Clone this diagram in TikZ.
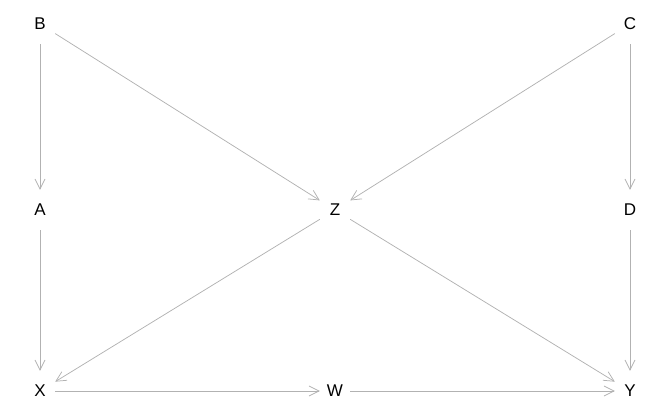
\documentclass[tikz,border=0pt]{standalone}
\usepackage{fontspec}
\setmainfont{Liberation Sans}
\usetikzlibrary{arrows.meta}
\begin{document}
\begin{tikzpicture}[x=1pt,y=-1pt,
  vnode/.style={rectangle,inner sep=0pt,minimum width=30pt,minimum height=40pt,font=\fontsize{17}{17}\selectfont,text=black},
  edge/.style={draw=black!30,line width=0.75pt,-{Straight Barb[length=10pt,width=10pt]}}]
\useasboundingbox (0,0) rectangle (672,415);
\node[vnode] (B) at (40,24) {B};
\node[vnode] (C) at (630,24) {C};
\node[vnode] (A) at (40,210) {A};
\node[vnode] (Z) at (335,210) {Z};
\node[vnode] (D) at (630,210) {D};
\node[vnode] (X) at (40,391) {X};
\node[vnode] (W) at (335,391) {W};
\node[vnode] (Y) at (630,391) {Y};
\draw[edge] (B) -- (A);
\draw[edge] (B) -- (Z);
\draw[edge] (C) -- (Z);
\draw[edge] (C) -- (D);
\draw[edge] (A) -- (X);
\draw[edge] (Z) -- (X);
\draw[edge] (Z) -- (Y);
\draw[edge] (D) -- (Y);
\draw[edge] (X) -- (W);
\draw[edge] (W) -- (Y);
\end{tikzpicture}
\end{document}
